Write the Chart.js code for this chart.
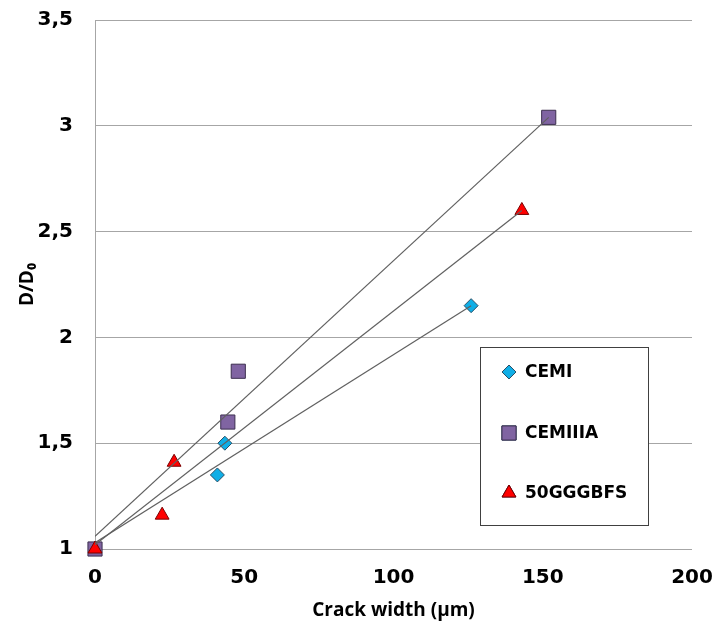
<!DOCTYPE html>
<html>
<head>
<meta charset="utf-8">
<script src="https://cdn.jsdelivr.net/npm/chart.js@4.4.1/dist/chart.umd.min.js"></script>
<style>
  html, body { margin: 0; padding: 0; background: #fff; }
  #wrap { width: 712px; height: 628px; position: relative; }
</style>
</head>
<body>
<div id="wrap"><canvas id="crackChart"></canvas></div>
<script>
// measured points
var cemiX = [0, 41, 43.5, 126];
var cemiY = [1, 1.35, 1.5, 2.15];
var cemiiiaX = [0, 44.5, 48, 152];
var cemiiiaY = [1, 1.6, 1.84, 3.04];
var ggbfsX = [0, 22.5, 26.5, 143];
var ggbfsY = [1, 1.16, 1.41, 2.6];

// trend line end points
var cemiTrendX = [0, 126];
var cemiTrendY = [1.03, 2.15];
var cemiiiaTrendX = [0, 152];
var cemiiiaTrendY = [1.06, 3.04];
var ggbfsTrendX = [0, 143];
var ggbfsTrendY = [1.02, 2.6];

var seriesNames = ['CEMI', 'CEMIIIA', '50GGGBFS'];
var xTicks = [0, 50, 100, 150, 200];
var yTicks = [1, 1.5, 2, 2.5, 3, 3.5];

function toPoints(xs, ys) {
    var pts = [];
    for (var i = 0; i < xs.length; i++) {
        pts.push({x: xs[i], y: ys[i]});
    }
    return pts;
}

function trend(xs, ys) {
    return {
        type: 'line',
        data: toPoints(xs, ys),
        borderColor: '#606060',
        borderWidth: 1.2,
        pointRadius: 0,
        fill: false,
        showLine: true,
        order: 0
    };
}

var tickFont = {family: 'DejaVu Sans', size: 20, weight: 'bold'};
var titleFont = {family: 'Open Sans', size: 19, weight: 'bold'};

// legend box drawn inside the plot
var boxLegend = {
    id: 'boxLegend',
    afterDraw: function (chart) {
        var ctx = chart.ctx;
        var left = 480, top = 347, w = 168, h = 178;
        ctx.save();
        ctx.fillStyle = '#fff';
        ctx.fillRect(left, top, w, h);
        ctx.strokeStyle = '#404040';
        ctx.lineWidth = 1;
        ctx.strokeRect(left + 0.5, top + 0.5, w, h);
        var rows = [372, 433, 493];
        for (var i = 0; i < 3; i++) {
            var ds = chart.data.datasets[i];
            Chart.helpers.drawPoint(ctx, {
                pointStyle: ds.pointStyle,
                radius: ds.pointRadius,
                borderWidth: 1,
                rotation: 0
            }, 509, rows[i]);
            ctx.fillStyle = ds.backgroundColor;
            ctx.strokeStyle = ds.borderColor;
            ctx.fill();
            ctx.stroke();
            ctx.fillStyle = '#000';
            ctx.font = 'bold 17px "DejaVu Sans"';
            ctx.textBaseline = 'middle';
            ctx.fillText(seriesNames[i], 525, rows[i] + 1);
        }
        ctx.restore();
    }
};

new Chart(document.getElementById('crackChart'), {
    type: 'scatter',
    data: {
        datasets: [{
            label: seriesNames[0],
            data: toPoints(cemiX, cemiY),
            pointStyle: 'rectRot',
            pointRadius: 7,
            backgroundColor: '#10aee6',
            borderColor: '#2a4f66',
            borderWidth: 1,
            clip: false,
            order: 3
        }, {
            label: seriesNames[1],
            data: toPoints(cemiiiaX, cemiiiaY),
            pointStyle: 'rect',
            pointRadius: 10,
            backgroundColor: '#8064a2',
            borderColor: '#3c2f4f',
            borderWidth: 1,
            clip: false,
            order: 2
        }, {
            label: seriesNames[2],
            data: toPoints(ggbfsX, ggbfsY),
            pointStyle: 'triangle',
            pointRadius: 8,
            backgroundColor: '#ff0000',
            borderColor: '#7a0000',
            borderWidth: 1,
            clip: false,
            order: 1
        },
            trend(cemiTrendX, cemiTrendY),
            trend(cemiiiaTrendX, cemiiiaTrendY),
            trend(ggbfsTrendX, ggbfsTrendY)
        ]
    },
    options: {
        responsive: true,
        maintainAspectRatio: false,
        animation: false,
        layout: {padding: {left: 0, right: 0, top: 0, bottom: 0}},
        plugins: {
            legend: {display: false},
            tooltip: {enabled: false}
        },
        scales: {
            x: {
                type: 'linear',
                min: 0,
                max: 200,
                afterBuildTicks: function (axis) {
                    axis.ticks = xTicks.map(function (v) { return {value: v}; });
                },
                afterFit: function (axis) {
                    axis.height = 79;
                    axis.paddingRight = 20;
                },
                grid: {display: false, drawTicks: false},
                border: {display: false},
                ticks: {color: '#000', font: tickFont, padding: 17, maxRotation: 0},
                title: {
                    display: true,
                    text: 'Crack width (µm)',
                    color: '#000',
                    font: titleFont,
                    padding: {top: 0, bottom: 6}
                }
            },
            y: {
                type: 'linear',
                min: 1,
                max: 3.5,
                afterBuildTicks: function (axis) {
                    axis.ticks = yTicks.map(function (v) { return {value: v}; });
                },
                afterFit: function (axis) {
                    axis.width = 95;
                    axis.paddingTop = 20;
                },
                grid: {color: '#a6a6a6', lineWidth: 1, drawTicks: false},
                border: {display: true, color: '#a6a6a6'},
                ticks: {
                    color: '#000',
                    font: tickFont,
                    padding: 22,
                    callback: function (v) { return String(v).replace('.', ','); }
                },
                title: {
                    display: true,
                    text: 'D/D\u2080',
                    color: '#000',
                    font: titleFont,
                    padding: {top: 16, bottom: 0}
                }
            }
        }
    },
    plugins: [boxLegend]
});
</script>
</body>
</html>
